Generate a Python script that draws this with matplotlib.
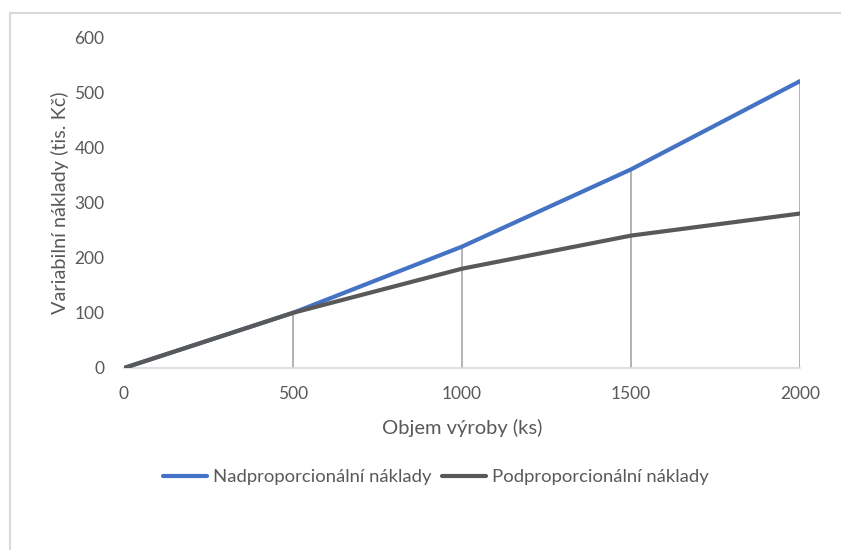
import numpy as np
import matplotlib
matplotlib.use("Agg")
import matplotlib.pyplot as plt
import matplotlib.patches as patches

plt.rcParams['font.family'] = ['Lato', 'DejaVu Sans']

objem = [0, 500, 1000, 1500, 2000]
nadprop = [0, 100, 220, 360, 520]
podprop = [0, 100, 180, 240, 280]
xticks = [0, 500, 1000, 1500, 2000]
yticks = [0, 100, 200, 300, 400, 500, 600]

txt = '#595959'
W, H = 841, 550

fig = plt.figure(figsize=(W/100, H/100), dpi=100)
ax = fig.add_axes([124/W, 1-368/H, (800-124)/W, (368-37)/H])

# chart area border (right and bottom edges fall outside the image)
fig.patches.append(patches.Rectangle((10/W, -0.1), 1.2, 1-13/H+0.1,
                   transform=fig.transFigure, fill=False,
                   edgecolor='#d9d9d9', linewidth=1.5))

# drop lines
tops = np.maximum(nadprop, podprop)
ax.vlines(objem, 0, tops, color='#a6a6a6', linewidth=1.2, zorder=1)

ax.plot(objem, nadprop, color='#4472c4', linewidth=3,
        solid_capstyle='round', label='Nadproporcionální náklady', zorder=3)
ax.plot(objem, podprop, color='#595959', linewidth=3,
        solid_capstyle='round', label='Podproporcionální náklady', zorder=4)

ax.set_xlim(0, 2000)
ax.set_ylim(0, 600)
ax.set_xticks(xticks)
ax.set_yticks(yticks)
ax.tick_params(length=0, labelsize=12.5, colors=txt)
ax.tick_params(axis='x', pad=13)
ax.tick_params(axis='y', pad=14)
for s in ['top', 'right', 'left']:
    ax.spines[s].set_visible(False)
ax.spines['bottom'].set_color('#d9d9d9')
ax.spines['bottom'].set_linewidth(1.2)
ax.margins(0)
for lab in ax.get_xticklabels() + ax.get_yticklabels():
    lab.set_clip_on(False)

ax.set_xlabel('Objem výroby (ks)', fontsize=14.5, color=txt, labelpad=12)
ax.set_ylabel('Variabilní náklady (tis. Kč)', fontsize=14.3, color=txt, labelpad=4)

leg = fig.legend(loc='center', bbox_to_anchor=(436/W, 1-477/H), ncol=2,
                 frameon=False, fontsize=13.3, handlelength=2.4,
                 handletextpad=0.33, columnspacing=0.55)
for t in leg.get_texts():
    t.set_color(txt)

fig.savefig('out.png', dpi=100)
